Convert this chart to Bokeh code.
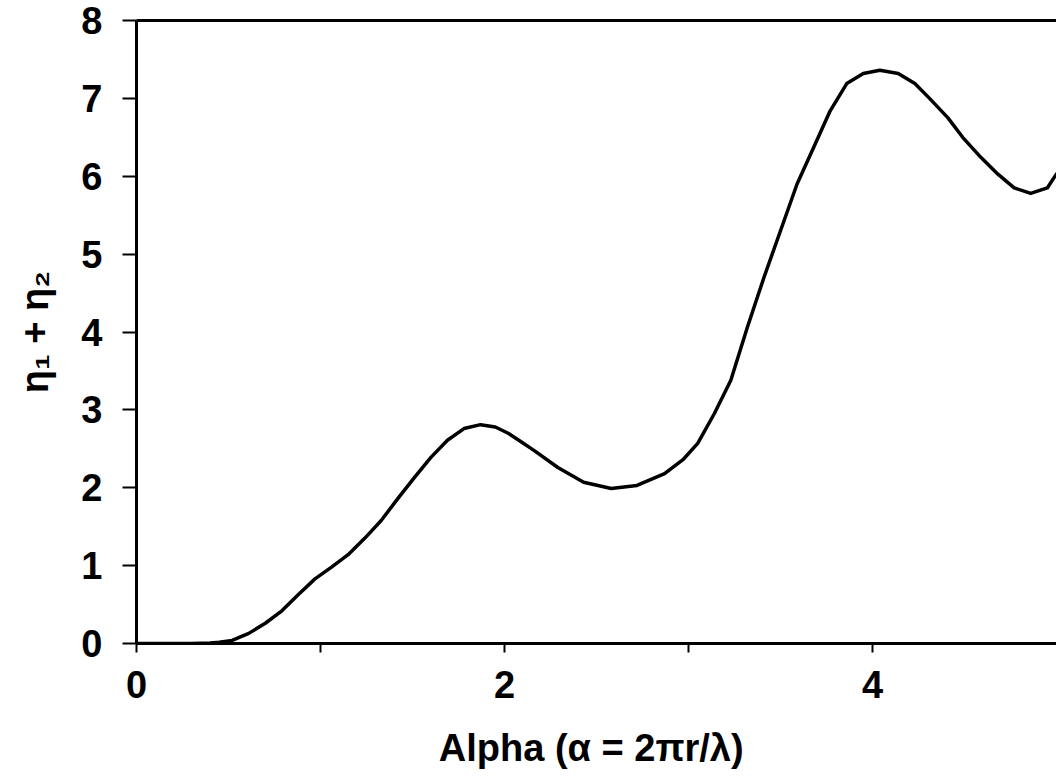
from bokeh.plotting import figure
from bokeh.models import FixedTicker, Range1d, LinearAxis
from bokeh.embed import file_html
from bokeh.resources import INLINE

alpha = [0.0, 0.1, 0.2, 0.3, 0.4, 0.45, 0.52, 0.61, 0.70, 0.79, 0.88, 0.97, 1.06, 1.15,
         1.24, 1.33, 1.42, 1.51, 1.60, 1.69, 1.78, 1.87, 1.95, 2.02, 2.09, 2.16, 2.29,
         2.43, 2.58, 2.72, 2.87, 2.97, 3.05, 3.14, 3.23, 3.32, 3.41, 3.50, 3.59, 3.68,
         3.77, 3.86, 3.95, 4.04, 4.14, 4.23, 4.31, 4.41, 4.49, 4.59, 4.68, 4.77, 4.86,
         4.95, 5.0]
eta_sum = [0.0, 0.0, 0.0, 0.0, 0.005, 0.015, 0.04, 0.13, 0.26, 0.42, 0.63, 0.83, 0.98, 1.14,
           1.35, 1.58, 1.86, 2.13, 2.39, 2.61, 2.76, 2.81, 2.78, 2.70, 2.59, 2.48, 2.26,
           2.07, 1.99, 2.03, 2.18, 2.36, 2.57, 2.95, 3.38, 4.06, 4.70, 5.30, 5.90, 6.37,
           6.84, 7.19, 7.32, 7.36, 7.32, 7.19, 7.00, 6.75, 6.50, 6.24, 6.03, 5.85, 5.78,
           5.85, 6.03]

x_major = [0, 2, 4]
x_minor = [1, 3]
y_ticks = [0, 1, 2, 3, 4, 5, 6, 7, 8]

FONT = "Liberation Sans"
FS = "38px"

p = figure(width=1056, height=781, output_backend="svg", toolbar_location=None,
           x_range=Range1d(0, 5), y_range=Range1d(0, 8),
           min_border_left=136, min_border_right=0, min_border_top=20,
           min_border_bottom=138)
p.outline_line_color = None
p.grid.visible = False
p.background_fill_color = "white"
p.border_fill_color = "white"

p.line(alpha, eta_sum, line_color="black", line_width=3.5, line_join="round",
       line_cap="round")

xa = p.below[0]
ya = p.left[0]
xa.ticker = FixedTicker(ticks=x_major, minor_ticks=x_minor)
ya.ticker = FixedTicker(ticks=y_ticks, minor_ticks=[])
for ax in (xa, ya):
    ax.axis_line_width = 3
    ax.axis_line_color = "black"
    ax.major_tick_line_width = 2
    ax.minor_tick_line_width = 2
    ax.major_label_text_font = FONT
    ax.major_label_text_font_style = "bold"
    ax.major_label_text_font_size = FS
    ax.major_label_text_color = "black"
    ax.axis_label_text_font = FONT
    ax.axis_label_text_font_style = "bold"
    ax.axis_label_text_font_size = FS
    ax.axis_label_text_color = "black"

xa.major_tick_in = 0
xa.major_tick_out = 9
xa.minor_tick_in = 0
xa.minor_tick_out = 9
xa.major_label_standoff = 18
xa.axis_label = "Alpha  (\u03b1 = 2\u03c0r/\u03bb)"
xa.axis_label_standoff = 26

ya.major_tick_in = 0
ya.major_tick_out = 14
ya.minor_tick_in = 0
ya.minor_tick_out = 0
ya.major_label_standoff = 20
ya.axis_label = "\u03b7\u2081 + \u03b7\u2082"
ya.axis_label_standoff = 22

top_axis = LinearAxis(ticker=FixedTicker(ticks=[], minor_ticks=[]), axis_line_width=3,
                      axis_line_color="black", major_tick_line_color=None,
                      minor_tick_line_color=None, major_label_text_font_size="10px")
p.add_layout(top_axis, "above")

open("out.html", "w").write(file_html(p, INLINE))
